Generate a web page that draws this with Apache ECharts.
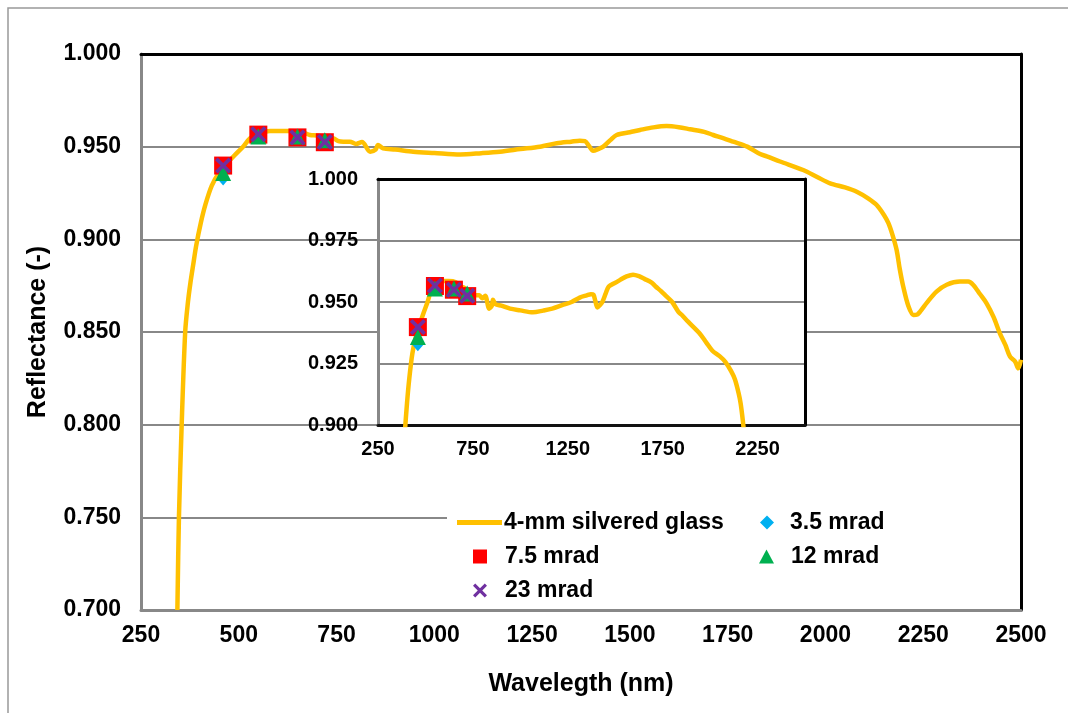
<!DOCTYPE html>
<html>
<head>
<meta charset="utf-8">
<script src="https://cdn.jsdelivr.net/npm/echarts@6/dist/echarts.min.js"></script>
<style>html,body{margin:0;padding:0;background:#fff}#c{width:1068px;height:713px}</style>
</head>
<body>
<div id="c"></div>
<script>
// ---- data ----
const wavelength = [343,347,354,363,370,376,384,391,403,415,431,450,470,490,511,529,550,580,623,660,682,700,720,742,755,767,784,800,815,836,850,856,869,900,946,1000,1066,1120,1168,1220,1270,1313,1350,1372,1385,1395,1406,1420,1432,1450,1466,1500,1526,1560,1594,1625,1654,1690,1713,1740,1764,1800,1833,1850,1884,1943,1980,2012,2050,2080,2110,2131,2150,2161,2172,2182,2190,2199,2212,2225,2235,2242,2260,2284,2310,2344,2365,2378,2395,2412,2430,2446,2460,2472,2485,2493,2500];
const reflectance = [0.700,0.750,0.800,0.850,0.866,0.876,0.887,0.8965,0.909,0.919,0.929,0.936,0.941,0.9455,0.950,0.9545,0.957,0.9585,0.9585,0.958,0.9563,0.956,0.955,0.9545,0.953,0.9527,0.9527,0.9515,0.9525,0.9473,0.9485,0.9509,0.9491,0.9485,0.9473,0.9466,0.9458,0.9465,0.9473,0.9487,0.950,0.9518,0.9527,0.9532,0.953,0.9505,0.9478,0.9488,0.950,0.9535,0.9563,0.9578,0.959,0.9604,0.9611,0.9605,0.9594,0.958,0.9563,0.9545,0.9527,0.950,0.946,0.9448,0.942,0.9374,0.9335,0.9302,0.928,0.9257,0.922,0.9185,0.913,0.9087,0.902,0.8942,0.884,0.8744,0.864,0.8592,0.8595,0.861,0.866,0.8718,0.8755,0.8772,0.8772,0.8754,0.8705,0.8655,0.858,0.8493,0.843,0.8367,0.834,0.8304,0.835];
const markerWavelength = [460,550,650,720];
const mrad3_5 = [0.9328,0.956,0.955,0.9525];
const mrad7_5 = [0.9398,0.9565,0.955,0.9524];
const mrad12 = [0.9358,0.9555,0.9555,0.9535];
const mrad23 = [0.9398,0.9567,0.955,0.9525];
const seriesNames = ['4-mm silvered glass','3.5 mrad','7.5 mrad','12 mrad','23 mrad'];
const mainXTicks = {min:250,max:2500,interval:250};
const mainYTicks = {min:0.7,max:1.0,interval:0.05};
const insetXTicks = {min:250,max:2500,interval:500};
const insetYTicks = {min:0.9,max:1.0,interval:0.025};

// ---- build ----
const pairs = (xs, ys) => xs.map((x,i)=>[x, ys[i]]);
const FONT = '"Liberation Sans", Arial, sans-serif';
const xShape = 'path://M0,1.6 L1.6,0 L5,3.4 L8.4,0 L10,1.6 L6.6,5 L10,8.4 L8.4,10 L5,6.6 L1.6,10 L0,8.4 L3.4,5 Z';
const markerDefs = [
  {name: seriesNames[1], data: mrad3_5, symbol:'diamond', size:[12,14], color:'#00B0F0'},
  {name: seriesNames[2], data: mrad7_5, symbol:'rect', size:18, color:'#FF0000'},
  {name: seriesNames[3], data: mrad12, symbol:'triangle', size:16, color:'#00B050'},
  {name: seriesNames[4], data: mrad23, symbol:xShape, size:16, color:'#7030A0'}
];

function lineSeries(xi, yi, z){
  return {type:'line', name:seriesNames[0], xAxisIndex:xi, yAxisIndex:yi, data:pairs(wavelength, reflectance),
    showSymbol:false, symbol:'none', smooth:0.3, z:z, clip:true,
    lineStyle:{color:'#FFC000', width:4.5}, itemStyle:{color:'#FFC000'}};
}
function markerSeries(def, xi, yi, z){
  return {type:'scatter', name:def.name, xAxisIndex:xi, yAxisIndex:yi, data:pairs(markerWavelength, def.data),
    symbol:def.symbol, symbolSize:def.size, z:z, itemStyle:{color:def.color, opacity:1}};
}

const series = [lineSeries(0,0,2)];
markerDefs.forEach((d,i)=>series.push(markerSeries(d,0,0,3+i)));
series.push(lineSeries(2,2,10));
markerDefs.forEach((d,i)=>series.push(markerSeries(d,2,2,11+i)));

const labelStyle = (size)=>({fontFamily:FONT, fontWeight:'bold', fontSize:size, color:'#000'});
const plain = v => String(v);

const option = {
  animation:false,
  backgroundColor:'#fff',
  grid:[
    {left:141, right:47, top:54, bottom:103, z:0},
    {left:378, right:263, top:179, bottom:288, show:true, backgroundColor:'#fff', borderWidth:0, z:6}
  ],
  xAxis:[
    {type:'value', gridIndex:0, position:'bottom', ...mainXTicks, z:1,
      axisLine:{onZero:false, lineStyle:{color:'#888', width:3}}, axisTick:{show:false},
      axisLabel:{...labelStyle(23), margin:14, formatter:plain}, splitLine:{show:false},
      name:'Wavelegth (nm)', nameLocation:'middle', nameGap:62, nameTextStyle:labelStyle(25)},
    {type:'value', gridIndex:0, position:'top', ...mainXTicks, z:1,
      axisLine:{onZero:false, lineStyle:{color:'#000', width:3}}, axisTick:{show:false},
      axisLabel:{show:false}, splitLine:{show:false}},
    {type:'value', gridIndex:1, position:'bottom', ...insetXTicks, z:7,
      axisLine:{onZero:false, lineStyle:{color:'#111', width:3}}, axisTick:{show:false},
      axisLabel:{...labelStyle(20), margin:14, showMaxLabel:false, formatter:plain}, splitLine:{show:false}},
    {type:'value', gridIndex:1, position:'top', ...insetXTicks, z:7,
      axisLine:{onZero:false, lineStyle:{color:'#000', width:3}}, axisTick:{show:false},
      axisLabel:{show:false}, splitLine:{show:false}}
  ],
  yAxis:[
    {type:'value', gridIndex:0, position:'left', ...mainYTicks, z:1,
      axisLine:{onZero:false, show:true, lineStyle:{color:'#888', width:3}}, axisTick:{show:false},
      axisLabel:{...labelStyle(23), margin:20, formatter:v=>v.toFixed(3)},
      splitLine:{show:true, lineStyle:{color:'#888', width:2}},
      name:'Reflectance (-)', nameLocation:'middle', nameGap:90, nameRotate:90, nameTextStyle:labelStyle(25)},
    {type:'value', gridIndex:0, position:'right', ...mainYTicks, z:1,
      axisLine:{onZero:false, show:true, lineStyle:{color:'#000', width:3}}, axisTick:{show:false},
      axisLabel:{show:false}, splitLine:{show:false}},
    {type:'value', gridIndex:1, position:'left', ...insetYTicks, z:7,
      axisLine:{onZero:false, show:true, lineStyle:{color:'#888', width:3}}, axisTick:{show:false},
      axisLabel:{...labelStyle(20), margin:20, formatter:v=>v.toFixed(3)},
      splitLine:{show:true, lineStyle:{color:'#888', width:2}}},
    {type:'value', gridIndex:1, position:'right', ...insetYTicks, z:7,
      axisLine:{onZero:false, show:true, lineStyle:{color:'#000', width:3}}, axisTick:{show:false},
      axisLabel:{show:false}, splitLine:{show:false}}
  ],
  legend:[
    {data:[{name:seriesNames[0], icon:'rect'}], left:457, top:511, padding:0, itemWidth:45, itemHeight:5, z:20,
      itemStyle:{color:'#FFC000'}, textStyle:{...labelStyle(23), padding:[0,0,0,-3]}},
    {data:[seriesNames[1]], left:760, top:511, padding:0, itemWidth:14, itemHeight:14, z:20, textStyle:{...labelStyle(23), padding:[0,0,0,11]}},
    {data:[seriesNames[2]], left:473, top:545, padding:0, itemWidth:14, itemHeight:14, z:20, textStyle:{...labelStyle(23), padding:[0,0,0,13]}},
    {data:[seriesNames[3]], left:759, top:545, padding:0, itemWidth:15, itemHeight:14, z:20, textStyle:{...labelStyle(23), padding:[0,0,0,12]}},
    {data:[seriesNames[4]], left:473, top:579, padding:0, itemWidth:14, itemHeight:14, z:20, textStyle:{...labelStyle(23), padding:[0,0,0,13]}}
  ],
  graphic:[
    {type:'rect', z:0, silent:true, shape:{x:8, y:8, width:1200, height:800}, style:{fill:'none', stroke:'#999', lineWidth:1.5}},
    {type:'rect', z:15, silent:true, shape:{x:447, y:500, width:573, height:107}, style:{fill:'#fff'}}
  ],
  series: series
};
const chart = echarts.init(document.getElementById('c'), null, {renderer:'canvas'});
chart.setOption(option);
</script>
</body>
</html>
